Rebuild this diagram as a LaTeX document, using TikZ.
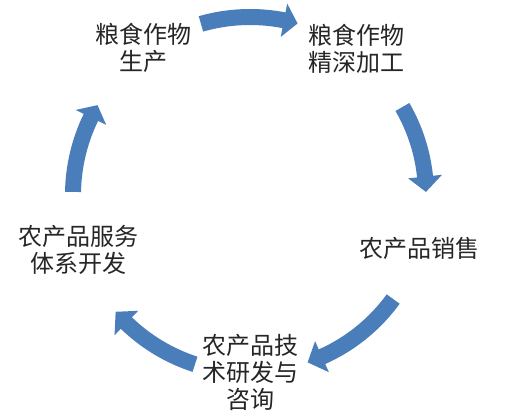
\documentclass[tikz,border=0pt]{standalone}
\usepackage{fontspec}
\newfontfamily\cjk{Noto Sans CJK SC}
\definecolor{arrowblue}{RGB}{74,126,187}
\definecolor{txt}{RGB}{38,38,38}
\newcommand\cycarrow[4]{%
 \pgfmathsetmacro\ro{#4+8}\pgfmathsetmacro\ri{#4-8}%
 \pgfmathsetmacro\hro{#4+17}\pgfmathsetmacro\hri{#4-17}%
 \fill[arrowblue] (#1:\ro pt) arc[start angle=#1, end angle=#2, radius=\ro pt]
   -- (#2:\hro pt) -- (#3:#4pt) -- (#2:\hri pt) -- (#2:\ri pt)
   arc[start angle=#2, end angle=#1, radius=\ri pt] -- cycle;}
\begin{document}
\begin{tikzpicture}[x=1pt,y=1pt,
  lbl/.style={align=center, text=txt, inner sep=0pt,
    font=\cjk\fontsize{24}{27}\selectfont}]
\useasboundingbox (0,0) rectangle (516,413);
\fill[white] (0,0) rectangle (516,413);
\node[lbl] (a) at (143,365) {粮食作物\\生产};
\node[lbl] (b) at (356,364) {粮食作物\\精深加工};
\node[lbl] (c) at (419,164.5) {农产品销售};
\node[lbl] (d) at (250,41) {农产品技\\术研发与\\咨询};
\node[lbl] (e) at (78,163) {农产品服务\\体系开发};
\begin{scope}[shift={(250,218)}]
\cycarrow{106}{79}{74.5}{178}
\cycarrow{30}{6}{1}{176}
\cycarrow{-36}{-66}{-71}{177}
\cycarrow{-108}{-134}{-139}{178}
\cycarrow{179}{154}{149.5}{177}
\end{scope}
\end{tikzpicture}
\end{document}
